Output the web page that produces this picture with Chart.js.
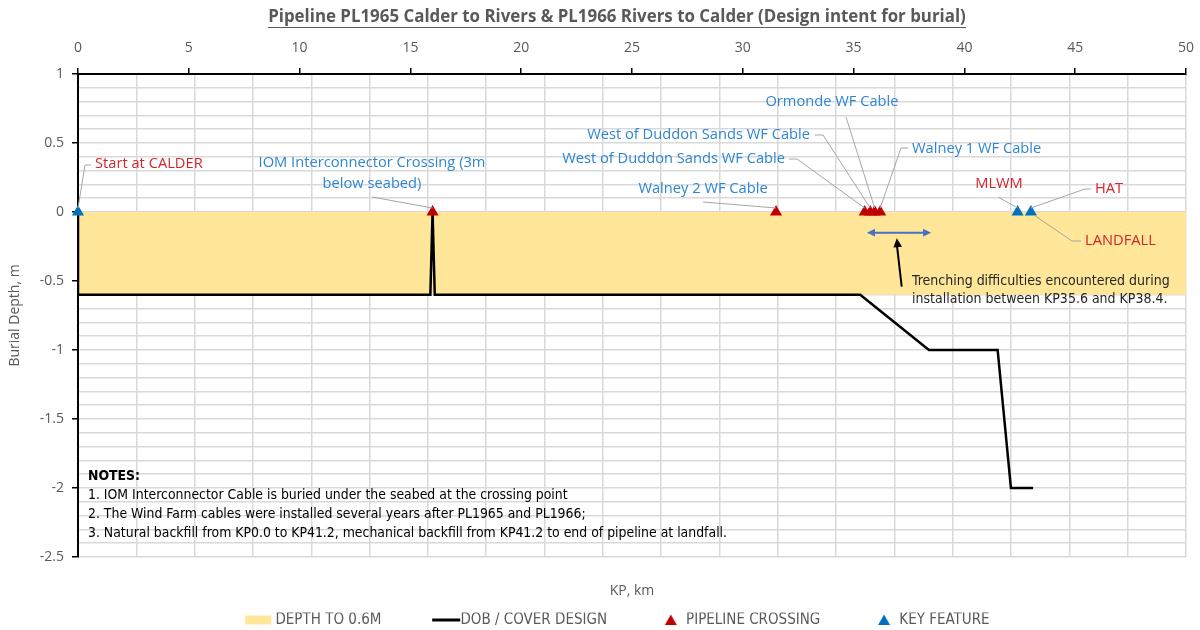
<!DOCTYPE html>
<html>
<head>
<meta charset="utf-8">
<script src="https://cdn.jsdelivr.net/npm/chart.js@4.4.0/dist/chart.umd.min.js"></script>
<style>
html, body { margin: 0; padding: 0; background: #fff; }
#wrap { width: 1200px; height: 630px; }
</style>
</head>
<body>
<div id="wrap"><canvas id="chart" width="1200" height="630"></canvas></div>
<script>
// --- data ---
const kpTicks = [0, 5, 10, 15, 20, 25, 30, 35, 40, 45, 50];
const depthTicks = [1, 0.5, 0, -0.5, -1, -1.5, -2, -2.5];
const bandKp = [0, 50];
const bandDepth = [-0.6, -0.6];
const dobKp = [0, 0, 15.9, 16.0, 16.1, 35.3, 38.4, 41.5, 42.1, 43.1];
const dobDepth = [0, -0.6, -0.6, 0, -0.6, -0.6, -1, -1, -2, -2];
const crossingKp = [16.0, 31.5, 35.5, 35.75, 35.95, 36.2];
const crossingDepth = [0, 0, 0, 0, 0, 0];
const featureKp = [0, 42.4, 43.0];
const featureDepth = [0, 0, 0];
const trenchKp = [35.6, 38.5];
const trenchDepth = -0.15;

const RED = '#C00000';
const BLUE = '#0070C0';
const LABEL_RED = '#D0262D';
const LABEL_BLUE = '#2E86D1';
const GRID = '#D9D9D9';
const AXIS_TEXT = '#595959';
const SANS = '"Open Sans", "Noto Sans", sans-serif';
const NARROW = '"Liberation Sans Narrow", "DejaVu Sans Condensed", sans-serif';

const callouts = [
    { set: 'feature', i: 0, color: LABEL_RED, lines: ['Start at CALDER'], align: 'left', tx: 95, ty: 164, path: [[91, 165], [85, 165]] },
    { set: 'cross', i: 0, color: LABEL_BLUE, lines: ['IOM Interconnector Crossing (3m', 'below seabed)'], align: 'center', tx: 372, ty: 163, path: [[372, 197]] },
    { set: 'cross', i: 1, color: LABEL_BLUE, lines: ['Walney 2 WF Cable'], align: 'center', tx: 703, ty: 189, path: [[703, 202]] },
    { set: 'cross', i: 2, color: LABEL_BLUE, lines: ['West of Duddon Sands WF Cable'], align: 'right', tx: 785, ty: 159, path: [[789, 159], [797, 159]] },
    { set: 'cross', i: 3, color: LABEL_BLUE, lines: ['West of Duddon Sands WF Cable'], align: 'right', tx: 810, ty: 135, path: [[815, 135], [823, 135]] },
    { set: 'cross', i: 4, color: LABEL_BLUE, lines: ['Ormonde WF Cable'], align: 'center', tx: 832, ty: 102, path: [[846, 117]] },
    { set: 'cross', i: 5, color: LABEL_BLUE, lines: ['Walney 1 WF Cable'], align: 'left', tx: 912, ty: 149, path: [[908, 148], [901, 148]] },
    { set: 'feature', i: 1, color: LABEL_RED, lines: ['MLWM'], align: 'center', tx: 999, ty: 184, path: [[998, 197]] },
    { set: 'feature', i: 2, color: LABEL_RED, lines: ['HAT'], align: 'left', tx: 1095, ty: 189, path: [[1091, 189], [1085, 189]] },
    { set: 'feature', i: 2, color: LABEL_RED, lines: ['LANDFALL'], align: 'left', tx: 1085, ty: 241, path: [[1081, 241], [1072, 241]], below: true }
];

const notes = [
    '1. IOM Interconnector Cable is buried under the seabed at the crossing point',
    '2. The Wind Farm cables were installed several years after PL1965 and PL1966;',
    '3. Natural backfill from KP0.0 to KP41.2, mechanical backfill from KP41.2 to end of pipeline at landfall.'
];
const trenchText = ['Trenching difficulties encountered during', 'installation between KP35.6 and KP38.4.'];
const titleText = 'Pipeline PL1965 Calder to Rivers & PL1966 Rivers to Calder (Design intent for burial)';

function pts(xs, ys) {
    return xs.map((x, k) => ({ x: x, y: ys[k] }));
}

function fitSize(ctx, text, weight, family, target, base) {
    ctx.font = weight + ' ' + base + 'px ' + family;
    return base * target / ctx.measureText(text).width;
}

// legend icons: wide transparent canvas, visible mark pushed to the right end
// so it sits just before the label text
const ICON_W = 90;
function icon(draw) {
    const c = document.createElement('canvas');
    c.width = ICON_W;
    c.height = 12;
    draw(c.getContext('2d'));
    return c;
}
function triIcon(color) {
    return icon(g => {
        const cx = 73;
        g.fillStyle = color;
        g.beginPath();
        g.moveTo(cx, 0.5);
        g.lineTo(cx + 6, 11);
        g.lineTo(cx - 6, 11);
        g.closePath();
        g.fill();
    });
}
const legendIcons = [
    icon(g => { g.fillStyle = '#FFE699'; g.fillRect(58, 1.5, 26, 9); }),
    icon(g => { g.fillStyle = '#000'; g.fillRect(60, 4.5, 28, 3); }),
    triIcon(RED),
    triIcon(BLUE)
];

function arrowHead(ctx, x, y, ang, size) {
    ctx.beginPath();
    ctx.moveTo(x, y);
    ctx.lineTo(x - size * Math.cos(ang - 0.45), y - size * Math.sin(ang - 0.45));
    ctx.lineTo(x - size * Math.cos(ang + 0.45), y - size * Math.sin(ang + 0.45));
    ctx.closePath();
    ctx.fill();
}

const annotations = {
    id: 'annotations',
    afterDatasetsDraw(chart) {
        const ctx = chart.ctx;
        const sx = chart.scales.x;
        const sy = chart.scales.y;
        const px = v => sx.getPixelForValue(v);
        const py = v => sy.getPixelForValue(v);

        ctx.save();
        // callouts
        const cSize = fitSize(ctx, 'West of Duddon Sands WF Cable', '', SANS, 223, 14);
        ctx.font = cSize + 'px ' + SANS;
        ctx.textBaseline = 'middle';
        callouts.forEach(c => {
            const kp = c.set === 'cross' ? crossingKp[c.i] : featureKp[c.i];
            const d = c.set === 'cross' ? crossingDepth[c.i] : featureDepth[c.i];
            const mx = px(kp);
            const my = py(d);
            ctx.strokeStyle = '#A6A6A6';
            ctx.lineWidth = 1;
            ctx.beginPath();
            c.path.forEach((p, k) => k ? ctx.lineTo(p[0], p[1]) : ctx.moveTo(p[0], p[1]));
            if (c.below) ctx.lineTo(mx + 3, my + 3);
            else ctx.lineTo(mx, my - 4);
            ctx.stroke();
            ctx.fillStyle = c.color;
            ctx.textAlign = c.align;
            c.lines.forEach((t, k) => ctx.fillText(t, c.tx, c.ty + k * 21));
        });

        // trenching range arrow
        const ay = py(trenchDepth);
        const ax1 = px(trenchKp[0]);
        const ax2 = px(trenchKp[1]);
        ctx.strokeStyle = '#4472C4';
        ctx.fillStyle = '#4472C4';
        ctx.lineWidth = 2;
        ctx.beginPath();
        ctx.moveTo(ax1 + 5, ay);
        ctx.lineTo(ax2 - 5, ay);
        ctx.stroke();
        arrowHead(ctx, ax1, ay, Math.PI, 9);
        arrowHead(ctx, ax2, ay, 0, 9);

        // pointer to range
        const bx1 = px(37.17), by1 = py(-0.54);
        const bx2 = px(36.95), by2 = py(-0.19);
        ctx.strokeStyle = '#000';
        ctx.fillStyle = '#000';
        ctx.lineWidth = 2;
        ctx.beginPath();
        ctx.moveTo(bx1, by1);
        ctx.lineTo(bx2, by2 + 6);
        ctx.stroke();
        arrowHead(ctx, bx2, by2, Math.atan2(by2 - by1, bx2 - bx1), 10);

        // trench text
        const tSize = fitSize(ctx, trenchText[0], '', NARROW, 258, 14);
        ctx.font = tSize + 'px ' + NARROW;
        ctx.fillStyle = '#262626';
        ctx.textAlign = 'left';
        ctx.fillText(trenchText[0], 912, 281);
        ctx.fillText(trenchText[1], 912, 299);

        // notes
        const nSize = fitSize(ctx, notes[2], '', NARROW, 640, 13);
        ctx.font = 'bold ' + nSize + 'px ' + NARROW;
        ctx.fillStyle = '#000';
        ctx.fillText('NOTES:', 88, 476);
        ctx.font = nSize + 'px ' + NARROW;
        notes.forEach((t, k) => ctx.fillText(t, 88, 495 + k * 19));

        // title
        const tiSize = fitSize(ctx, titleText, 'bold', SANS, 698, 15);
        ctx.font = 'bold ' + tiSize + 'px ' + SANS;
        ctx.fillStyle = AXIS_TEXT;
        ctx.textAlign = 'center';
        ctx.fillText(titleText, 617, 17);
        ctx.strokeStyle = AXIS_TEXT;
        ctx.lineWidth = 1;
        ctx.beginPath();
        ctx.moveTo(268, 27.5);
        ctx.lineTo(966, 27.5);
        ctx.stroke();
        ctx.restore();
    }
};

const isHalf = v => Math.abs(Math.round(v * 2) - v * 2) < 1e-6;

new Chart(document.getElementById('chart').getContext('2d'), {
    type: 'line',
    data: {
        datasets: [
            {
                label: 'DEPTH TO 0.6M',
                data: pts(bandKp, bandDepth),
                backgroundColor: '#FFE699',
                borderWidth: 0,
                pointRadius: 0,
                fill: { value: 0 },
                order: 4
            },
            {
                label: 'DOB / COVER DESIGN',
                data: pts(dobKp, dobDepth),
                borderColor: '#000',
                borderWidth: 2.5,
                pointRadius: 0,
                fill: false,
                tension: 0,
                order: 3
            },
            {
                label: 'PIPELINE CROSSING',
                data: pts(crossingKp, crossingDepth),
                showLine: false,
                pointStyle: 'triangle',
                pointRadius: 7,
                backgroundColor: RED,
                borderColor: RED,
                borderWidth: 0,
                clip: false,
                order: 2
            },
            {
                label: 'KEY FEATURE',
                data: pts(featureKp, featureDepth),
                showLine: false,
                pointStyle: 'triangle',
                pointRadius: 7,
                backgroundColor: BLUE,
                borderColor: BLUE,
                borderWidth: 0,
                clip: false,
                order: 1
            }
        ]
    },
    options: {
        responsive: false,
        animation: false,
        events: [],
        layout: { padding: { top: 28, right: 14, left: 0, bottom: -7.5 } },
        scales: {
            x: {
                type: 'linear',
                position: 'top',
                min: 0,
                max: 50,
                afterBuildTicks: s => { s.ticks = kpTicks.map(v => ({ value: v })); },
                ticks: { color: AXIS_TEXT, font: { family: SANS, size: 14 }, padding: 12, maxRotation: 0 },
                grid: { drawOnChartArea: false, drawTicks: true, tickLength: 6, color: '#000', lineWidth: 1.5 },
                border: { color: '#000', width: 2 },
                afterFit: s => { s.height = 46; s.paddingLeft = 0; s.paddingRight = 0; }
            },
            xg: {
                type: 'linear',
                position: 'bottom',
                min: 0,
                max: 19,
                ticks: { stepSize: 1, display: false },
                grid: { color: GRID, lineWidth: 1.5, drawTicks: false },
                border: { display: false },
                title: { display: true, text: 'KP, km', color: AXIS_TEXT, font: { family: SANS, size: 14 }, padding: { top: 0, bottom: 13.5 } },
                afterFit: s => { s.height = 55.5; s.paddingLeft = 0; s.paddingRight = 0; }
            },
            y: {
                type: 'linear',
                min: -2.5,
                max: 1,
                afterBuildTicks: s => {
                    const t = [];
                    for (let k = -25; k <= 10; k++) t.push({ value: k / 10 });
                    s.ticks = t;
                },
                ticks: {
                    autoSkip: false,
                    color: AXIS_TEXT,
                    font: { family: SANS, size: 14 },
                    padding: 8,
                    callback: v => depthTicks.some(d => Math.abs(d - v) < 1e-6) ? String(Math.round(v * 10) / 10) : ''
                },
                grid: {
                    color: GRID,
                    lineWidth: 1.5,
                    tickLength: 6,
                    tickColor: c => isHalf(c.tick.value) ? '#000' : 'rgba(0,0,0,0)',
                    tickWidth: 1.5
                },
                border: { color: '#000', width: 2 },
                title: { display: true, text: 'Burial Depth, m', color: AXIS_TEXT, font: { family: SANS, size: 14 }, padding: { top: 6.5, bottom: 0 } },
                afterFit: s => { s.width = 78; }
            }
        },
        plugins: {
            title: { display: false },
            tooltip: { enabled: false },
            legend: {
                position: 'bottom',
                labels: {
                    usePointStyle: true,
                    pointStyleWidth: 71.5,
                    padding: 0,
                    color: AXIS_TEXT,
                    font: { family: NARROW, size: 15 },
                    generateLabels: chart => chart.data.datasets.map((ds, k) => ({
                        text: ds.label,
                        pointStyle: legendIcons[k],
                        fillStyle: 'transparent',
                        strokeStyle: 'transparent',
                        lineWidth: 0,
                        hidden: false,
                        datasetIndex: k,
                        fontColor: AXIS_TEXT
                    }))
                }
            }
        }
    },
    plugins: [annotations]
});
</script>
</body>
</html>
